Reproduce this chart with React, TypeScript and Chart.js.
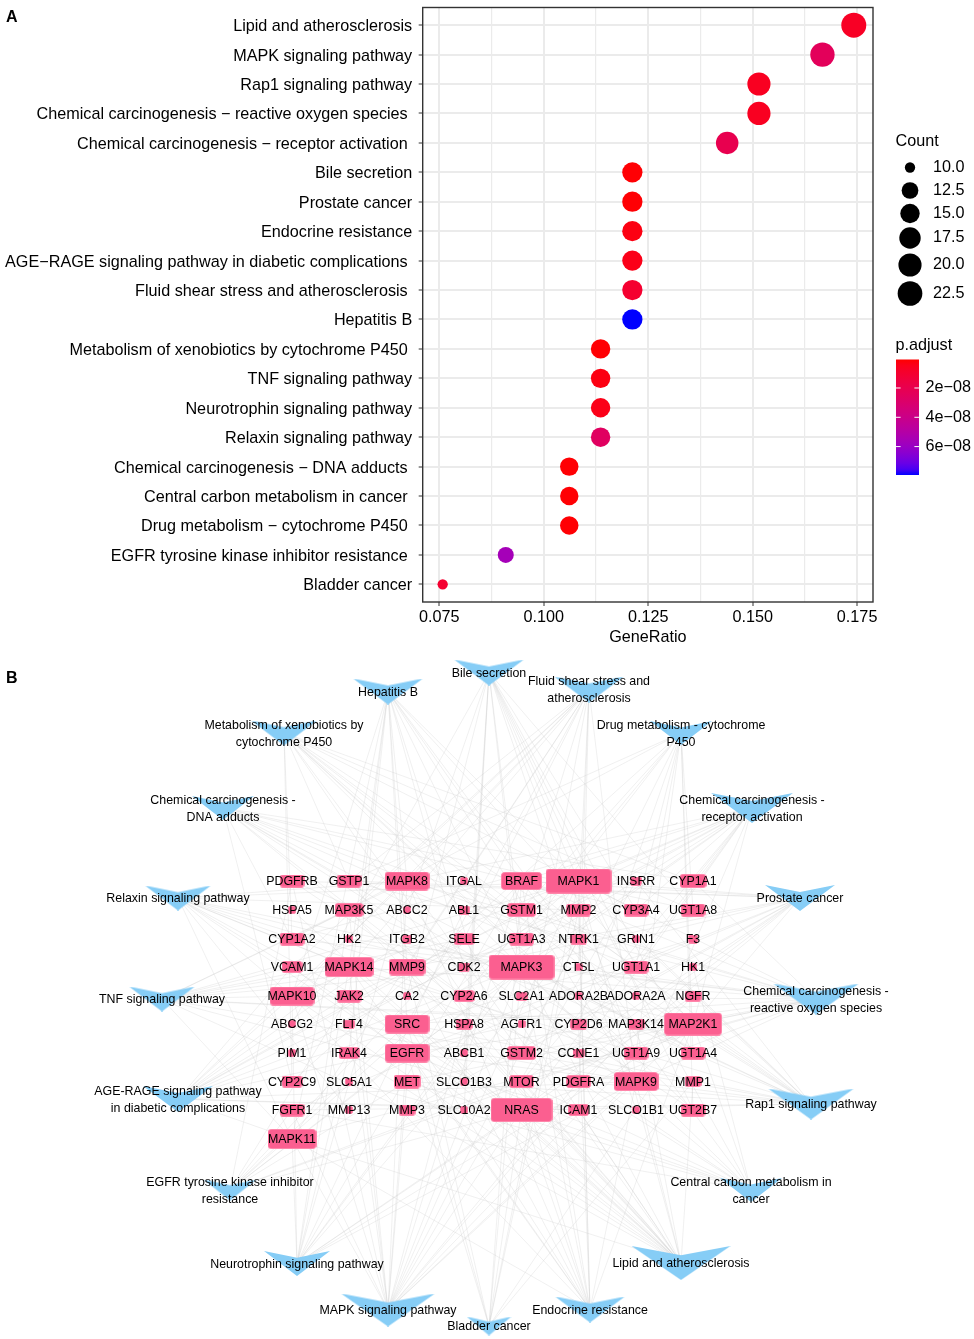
import React, { useEffect, useRef } from "react";
import Chart from "chart.js/auto";

const FONT = "'Liberation Sans', Arial, sans-serif";

// ---------- Panel A data ----------
const pathways = [
  "Lipid and atherosclerosis", "MAPK signaling pathway", "Rap1 signaling pathway",
  "Chemical carcinogenesis \u2212 reactive oxygen species ", "Chemical carcinogenesis \u2212 receptor activation ",
  "Bile secretion", "Prostate cancer", "Endocrine resistance",
  "AGE\u2212RAGE signaling pathway in diabetic complications ", "Fluid shear stress and atherosclerosis ",
  "Hepatitis B", "Metabolism of xenobiotics by cytochrome P450 ", "TNF signaling pathway",
  "Neurotrophin signaling pathway", "Relaxin signaling pathway",
  "Chemical carcinogenesis \u2212 DNA adducts ", "Central carbon metabolism in cancer ",
  "Drug metabolism \u2212 cytochrome P450 ", "EGFR tyrosine kinase inhibitor resistance ", "Bladder cancer",
];
const geneRatio = [0.1742, 0.1667, 0.1515, 0.1515, 0.1439, 0.1212, 0.1212, 0.1212, 0.1212, 0.1212, 0.1212, 0.1136, 0.1136, 0.1136, 0.1136, 0.1061, 0.1061, 0.1061, 0.0909, 0.0758];
const counts = [23, 22, 20, 20, 19, 16, 16, 16, 16, 16, 16, 15, 15, 15, 15, 14, 14, 14, 12, 10];
const pAdjust = [0.7e-8, 2.4e-8, 0.6e-8, 0.6e-8, 2.0e-8, 0.1e-8, 0.1e-8, 0.3e-8, 0.4e-8, 1.0e-8, 7.94e-8, 0.1e-8, 0.3e-8, 0.4e-8, 2.6e-8, 0.1e-8, 0.1e-8, 0.1e-8, 5.6e-8, 1.0e-8];
const xTicks = [0.075, 0.0875, 0.1, 0.1125, 0.125, 0.1375, 0.15, 0.1625, 0.175];
const sizeLegend = [10, 12.5, 15, 17.5, 20, 22.5];
const pLegend = [2e-8, 4e-8, 6e-8];
const pLegendLabels = ["2e\u221208", "4e\u221208", "6e\u221208"];
const P_LOW = 0.055e-8;
const P_HIGH = 7.94e-8;

// ---------- Panel B data ----------
const geneRows = [
  ["PDGFRB", "GSTP1", "MAPK8", "ITGAL", "BRAF", "MAPK1", "INSRR", "CYP1A1"],
  ["HSPA5", "MAP3K5", "ABCC2", "ABL1", "GSTM1", "MMP2", "CYP3A4", "UGT1A8"],
  ["CYP1A2", "HK2", "ITGB2", "SELE", "UGT1A3", "NTRK1", "GRIN1", "F3"],
  ["VCAM1", "MAPK14", "MMP9", "CDK2", "MAPK3", "CTSL", "UGT1A1", "HK1"],
  ["MAPK10", "JAK2", "CA2", "CYP2A6", "SLC2A1", "ADORA2B", "ADORA2A", "NGFR"],
  ["ABCG2", "FLT4", "SRC", "HSPA8", "AGTR1", "CYP2D6", "MAP3K14", "MAP2K1"],
  ["PIM1", "IRAK4", "EGFR", "ABCB1", "GSTM2", "CCNE1", "UGT1A9", "UGT1A4"],
  ["CYP2C9", "SLC5A1", "MET", "SLCO1B3", "MTOR", "PDGFRA", "MAPK9", "MMP1"],
  ["FGFR1", "MMP13", "MMP3", "SLC10A2", "NRAS", "ICAM1", "SLCO1B1", "UGT2B7"],
  ["MAPK11"],
];
const geneDegrees = [
  [5, 5, 10, 1, 9, 15, 2, 5.5],
  [1, 6, 1, 2, 6, 5, 5, 5],
  [5, 1, 1.5, 4, 5, 3, 1, 1.5],
  [4, 11, 8, 2, 15, 1, 5, 1],
  [10, 5, 1, 4, 2, 1, 1, 3],
  [1, 2, 10, 3, 1, 3, 3, 13],
  [1, 4, 10, 1, 6, 2, 5, 5],
  [4, 1, 5.5, 1, 5, 5, 10, 3],
  [5, 1, 3, 1, 14, 4, 1, 5],
  [11],
];
const columnPositions = [292, 349, 407, 464, 521.5, 578.5, 636, 693];
const rowPositions = [881, 910, 939, 967, 996, 1024, 1053, 1081.5, 1110, 1139];

const netNames = [
  "Bile secretion", "Fluid shear stress and\natherosclerosis", "Drug metabolism - cytochrome\nP450",
  "Chemical carcinogenesis -\nreceptor activation", "Prostate cancer",
  "Chemical carcinogenesis -\nreactive oxygen species", "Rap1 signaling pathway",
  "Central carbon metabolism in\ncancer", "Lipid and atherosclerosis", "Endocrine resistance",
  "Bladder cancer", "MAPK signaling pathway", "Neurotrophin signaling pathway",
  "EGFR tyrosine kinase inhibitor\nresistance", "AGE-RAGE signaling pathway\nin diabetic complications",
  "TNF signaling pathway", "Relaxin signaling pathway", "Chemical carcinogenesis -\nDNA adducts",
  "Metabolism of xenobiotics by\ncytochrome P450", "Hepatitis B",
];
const netCounts = [16, 16, 14, 19, 16, 20, 20, 14, 23, 16, 10, 22, 15, 12, 16, 15, 15, 14, 15, 16];
const netX = [489, 589, 681, 752, 800, 816, 811, 751, 681, 590, 489, 388, 297, 230, 178, 162, 178, 223, 284, 388];
const netY = [672.5, 689.5, 733, 808, 898, 999, 1104, 1190, 1263, 1309.5, 1326, 1310, 1263.5, 1190, 1099, 999, 898, 808, 733, 691.5];
const netGenes = [
  "ABCC2 ABCG2 SLCO1B1 SLCO1B3 SLC10A2 ABCB1 CYP3A4 UGT1A1 UGT1A3 UGT1A4 UGT1A8 UGT1A9 UGT2B7 CA2 MAPK3 MAPK1",
  "MAPK8 MAPK9 MAPK10 MAPK14 MAPK11 SRC ICAM1 VCAM1 SELE MMP2 MMP9 GSTM1 GSTM2 GSTP1 MAP3K5 CTSL",
  "CYP1A2 CYP2A6 CYP2C9 CYP2D6 CYP3A4 GSTM1 GSTM2 GSTP1 UGT1A1 UGT1A3 UGT1A4 UGT1A8 UGT1A9 UGT2B7",
  "MAPK1 MAPK3 MAPK8 MAPK9 MAPK10 MAP2K1 BRAF NRAS SRC EGFR MTOR CYP1A1 CYP1A2 CYP3A4 UGT1A1 CDK2 CCNE1 PIM1 JAK2",
  "MAPK1 MAPK3 MAP2K1 BRAF NRAS EGFR FGFR1 PDGFRA PDGFRB MTOR MMP3 MMP9 GSTP1 CCNE1 CDK2 GSTM2",
  "MAPK1 MAPK3 MAPK8 MAPK9 MAPK10 MAPK14 MAPK11 MAP2K1 BRAF NRAS SRC EGFR MET MTOR HK2 GSTP1 GSTM1 GSTM2 CYP1A1 CYP1A2",
  "MAPK1 MAPK3 MAPK14 GRIN1 MAP2K1 BRAF NRAS SRC EGFR MET FGFR1 PDGFRA PDGFRB INSRR NTRK1 NGFR FLT4 ADORA2A ADORA2B ITGAL",
  "MAPK1 MAPK3 MAP2K1 BRAF NRAS EGFR FGFR1 MET MTOR PDGFRA PDGFRB HK1 SLC2A1 SLC5A1",
  "MAPK1 MAPK3 MAPK8 MAPK9 MAPK10 MAPK14 MAPK11 SRC NRAS MMP1 MMP3 MMP9 ICAM1 VCAM1 SELE HSPA5 HSPA8 IRAK4 JAK2 MAP3K5 MTOR MAP3K14 GSTP1",
  "MAPK1 MAPK3 MAPK8 MAPK9 MAPK10 MAPK14 MAPK11 MAP2K1 BRAF NRAS SRC EGFR MTOR MMP2 MMP9 CYP2D6",
  "MAPK1 MAPK3 MAP2K1 BRAF NRAS EGFR SRC MMP1 MMP2 MMP9",
  "MAPK1 MAPK3 MAPK8 MAPK9 MAPK10 MAPK14 MAPK11 MAP2K1 BRAF NRAS EGFR MET FGFR1 PDGFRA PDGFRB INSRR NTRK1 NGFR FLT4 MAP3K5 MAP3K14 HSPA8",
  "MAPK1 MAPK3 MAPK8 MAPK9 MAPK10 MAPK14 MAPK11 MAP2K1 BRAF NRAS NTRK1 NGFR IRAK4 MAP3K5 ABL1",
  "MAPK1 MAPK3 MAP2K1 BRAF NRAS EGFR FGFR1 MET MTOR PDGFRB SRC JAK2",
  "MAPK1 MAPK3 MAPK8 MAPK9 MAPK10 MAPK14 MAPK11 NRAS ICAM1 VCAM1 SELE MMP2 JAK2 F3 AGTR1 ITGB2",
  "MAPK1 MAPK3 MAPK8 MAPK9 MAPK10 MAPK14 MAPK11 MAP3K5 MAP3K14 ICAM1 VCAM1 SELE MMP3 MMP9 MAP2K1",
  "MAPK1 MAPK3 MAPK8 MAPK9 MAPK10 MAPK14 MAPK11 MAP2K1 NRAS SRC EGFR MMP1 MMP2 MMP9 MMP13",
  "CYP1A1 CYP1A2 CYP2A6 CYP2C9 CYP3A4 GSTM1 GSTM2 GSTP1 UGT1A1 UGT1A3 UGT1A4 UGT1A8 UGT1A9 UGT2B7",
  "CYP1A1 CYP1A2 CYP2A6 CYP2C9 CYP3A4 GSTM1 GSTM2 GSTP1 UGT1A1 UGT1A3 UGT1A4 UGT1A8 UGT1A9 UGT2B7 CYP2D6",
  "MAPK1 MAPK3 MAPK8 MAPK9 MAPK10 MAPK14 MAPK11 MAP2K1 BRAF NRAS SRC JAK2 IRAK4 MMP9 MAP3K14 CDK2",
];

// ---------- mappings ----------
function bubbleRadius(count: number) {
  const size = 3.3 + 4.7 * Math.sqrt((count - 10) / 13);
  return size * 1.56;
}
function srgbToLinear(c: number) { return c <= 0.04045 ? c / 12.92 : Math.pow((c + 0.055) / 1.055, 2.4); }
function linearToSrgb(c: number) {
  const v = Math.max(0, Math.min(1, c));
  return v <= 0.0031308 ? v * 12.92 : 1.055 * Math.pow(v, 1 / 2.4) - 0.055;
}
function toLab(r: number, g: number, b: number) {
  const R = srgbToLinear(r), G = srgbToLinear(g), B = srgbToLinear(b);
  const f = (t: number) => (t > 0.008856 ? Math.cbrt(t) : 7.787 * t + 16 / 116);
  const x = f((0.4124 * R + 0.3576 * G + 0.1805 * B) / 0.95047);
  const y = f(0.2126 * R + 0.7152 * G + 0.0722 * B);
  const z = f((0.0193 * R + 0.1192 * G + 0.9505 * B) / 1.08883);
  return [116 * y - 16, 500 * (x - y), 200 * (y - z)];
}
const LAB_RED = toLab(1, 0, 0);
const LAB_BLUE = toLab(0, 0, 1);
function gradient(t: number) {
  const [L, a, b] = LAB_RED.map((v, i) => v + (LAB_BLUE[i] - v) * t);
  const fy = (L + 16) / 116, fx = fy + a / 500, fz = fy - b / 200;
  const g = (v: number) => (v * v * v > 0.008856 ? v * v * v : (v - 16 / 116) / 7.787);
  const X = 0.95047 * g(fx), Y = g(fy), Z = 1.08883 * g(fz);
  const r = linearToSrgb(3.2406 * X - 1.5372 * Y - 0.4986 * Z);
  const gg = linearToSrgb(-0.9689 * X + 1.8758 * Y + 0.0415 * Z);
  const bb = linearToSrgb(0.0557 * X - 0.204 * Y + 1.057 * Z);
  return `rgb(${Math.round(r * 255)},${Math.round(gg * 255)},${Math.round(bb * 255)})`;
}
const pColor = (p: number) => gradient((p - P_LOW) / (P_HIGH - P_LOW));

function nodeWidth(degree: number) { return 4.1 * degree + 3.8; }
function nodeHeight(degree: number) { return 0.29 * nodeWidth(degree) + 5.5; }

function geneSprite(degree: number) {
  const w = nodeWidth(degree), h = nodeHeight(degree);
  const c = document.createElement("canvas");
  c.width = Math.ceil(w); c.height = Math.ceil(h);
  const ctx = c.getContext("2d")!;
  ctx.beginPath();
  ctx.roundRect(0.5, 0.5, c.width - 1, c.height - 1, Math.min(3, h / 5));
  ctx.fillStyle = "#fb5f90";
  ctx.fill();
  ctx.strokeStyle = "#ff86aa";
  ctx.lineWidth = 1;
  ctx.stroke();
  return c;
}
function pathwaySprite(degree: number) {
  const w = nodeWidth(degree), h = nodeHeight(degree);
  const c = document.createElement("canvas");
  c.width = Math.ceil(w); c.height = Math.ceil(h);
  const ctx = c.getContext("2d")!;
  ctx.beginPath();
  ctx.moveTo(0, 0);
  ctx.lineTo(c.width / 2, c.height * 0.27);
  ctx.lineTo(c.width, 0);
  ctx.lineTo(c.width / 2, c.height);
  ctx.closePath();
  ctx.fillStyle = "#86cdf6";
  ctx.fill();
  return c;
}

// ---------- plugins ----------
const panelFrame = {
  id: "panelFrame",
  afterDatasetsDraw(chart: any) {
    const { ctx, chartArea: a } = chart;
    ctx.save();
    ctx.strokeStyle = "#333333";
    ctx.lineWidth = 1.4;
    ctx.strokeRect(a.left, a.top, a.right - a.left, a.bottom - a.top);
    ctx.restore();
  },
};

const legendRows = [167.5, 190.5, 213.5, 238, 265, 293.5];
const sideLegends = {
  id: "sideLegends",
  afterDraw(chart: any) {
    const { ctx } = chart;
    ctx.save();
    ctx.font = `16.2px ${FONT}`;
    ctx.fillStyle = "#000";
    ctx.textBaseline = "middle";
    ctx.textAlign = "left";
    ctx.fillText("Count", 895.5, 142);
    sizeLegend.forEach((v, i) => {
      ctx.fillStyle = "#000";
      ctx.beginPath();
      ctx.arc(910, legendRows[i], bubbleRadius(v), 0, Math.PI * 2);
      ctx.fill();
      ctx.fillText(v.toFixed(1), 933, legendRows[i]);
    });
    ctx.fillText("p.adjust", 895.5, 346);
    const top = 359.5, bottom = 475, left = 896, right = 919;
    const g = ctx.createLinearGradient(0, top, 0, bottom);
    for (let i = 0; i <= 20; i++) g.addColorStop(i / 20, gradient(i / 20));
    ctx.fillStyle = g;
    ctx.fillRect(left, top, right - left, bottom - top);
    pLegend.forEach((p, i) => {
      const y = top + ((p - P_LOW) / (P_HIGH - P_LOW)) * (bottom - top);
      ctx.strokeStyle = "#fff";
      ctx.lineWidth = 1;
      ctx.beginPath();
      ctx.moveTo(left, y); ctx.lineTo(left + 4.6, y);
      ctx.moveTo(right - 4.6, y); ctx.lineTo(right, y);
      ctx.stroke();
      ctx.fillStyle = "#000";
      ctx.fillText(pLegendLabels[i], 925.5, y);
    });
    ctx.restore();
  },
};

const geneList = geneRows.flatMap((row, r) => row.map((name, c) => ({
  name, x: columnPositions[c], y: rowPositions[r], degree: geneDegrees[r][c],
})));
const geneByName = new Map(geneList.map((g) => [g.name, g]));

const networkLabels = {
  id: "networkLabels",
  afterDatasetsDraw(chart: any) {
    const { ctx, scales } = chart;
    ctx.save();
    ctx.fillStyle = "#000";
    ctx.textAlign = "center";
    ctx.textBaseline = "middle";
    ctx.font = `12.4px ${FONT}`;
    geneList.forEach((g) => {
      ctx.fillText(g.name, scales.x.getPixelForValue(g.x), scales.y.getPixelForValue(g.y) + 0.8);
    });
    netNames.forEach((name, i) => {
      const lines = name.split("\n");
      const px = scales.x.getPixelForValue(netX[i]);
      const py = scales.y.getPixelForValue(netY[i]);
      lines.forEach((line, j) => {
        ctx.fillText(line, px, py + 0.8 + (j - (lines.length - 1) / 2) * 17);
      });
    });
    ctx.restore();
  },
};

export default function App() {
  const aRef = useRef<HTMLCanvasElement>(null);
  const bRef = useRef<HTMLCanvasElement>(null);

  useEffect(() => {
    const base = { family: "Liberation Sans", size: 16.2 };
    const chartA = new Chart(aRef.current!, {
      type: "bubble",
      data: {
        datasets: [{
          data: pathways.map((_, i) => ({ x: geneRatio[i], y: i, r: bubbleRadius(counts[i]) })),
          backgroundColor: pAdjust.map(pColor),
          borderWidth: 0,
          hoverBorderWidth: 0,
        }],
      },
      options: {
        animation: false,
        responsive: false,
        devicePixelRatio: 1,
        events: [],
        layout: { autoPadding: false, padding: { top: 7.5, right: 101, left: 0, bottom: 3 } },
        plugins: { legend: { display: false }, tooltip: { enabled: false } },
        scales: {
          x: {
            type: "linear",
            min: 0.07102,
            max: 0.1788,
            afterBuildTicks(s: any) { s.ticks = xTicks.map((value) => ({ value })); },
            afterFit(s: any) { s.height = 45; s.paddingLeft = 0; s.paddingRight = 0; },
            grid: {
              color: "#ebebeb",
              lineWidth: (c: any) => (c.index % 2 === 0 ? 2 : 1.2),
              tickColor: (c: any) => (c.index % 2 === 0 ? "#333333" : "rgba(0,0,0,0)"),
              tickLength: 4,
              tickWidth: 1,
            },
            border: { display: false },
            ticks: {
              autoSkip: false, maxRotation: 0, minRotation: 0, color: "#000", font: base, padding: 2,
              callback: (v: any, i: number) => (i % 2 === 0 ? Number(v).toFixed(3) : ""),
            },
            title: { display: true, text: "GeneRatio", color: "#000", font: base, padding: { top: 1, bottom: 0 } },
          },
          y: {
            type: "linear",
            reverse: true,
            min: -0.6,
            max: 19.6,
            afterBuildTicks(s: any) { s.ticks = pathways.map((_, value) => ({ value })); },
            afterFit(s: any) { s.width = 422.7; s.paddingTop = 0; s.paddingBottom = 0; },
            grid: { color: "#ebebeb", lineWidth: 2, tickColor: "#333333", tickLength: 4, tickWidth: 1 },
            border: { display: false },
            ticks: {
              autoSkip: false, color: "#000", font: base, padding: 6.5, labelOffset: 1.5,
              callback: (v: any) => pathways[Number(v)],
            },
          },
        },
      },
      plugins: [panelFrame, sideLegends],
    } as any);

    const edges = netGenes.flatMap((list, i) => list.split(" ").map((name) => {
      const g = geneByName.get(name)!;
      return {
        type: "scatter",
        showLine: true,
        data: [{ x: g.x, y: g.y }, { x: netX[i], y: netY[i] }],
        borderColor: "rgba(200,200,200,0.28)",
        borderWidth: 1,
        pointRadius: 0,
        order: 2,
      };
    }));
    const geneSprites = geneList.map((g) => geneSprite(g.degree));
    const pathwaySprites = netCounts.map(pathwaySprite);
    const chartB = new Chart(bRef.current!, {
      type: "scatter",
      data: {
        datasets: [
          ...edges,
          {
            data: geneList.map((g) => ({ x: g.x, y: g.y })),
            pointStyle: (c: any) => geneSprites[c.dataIndex],
            pointRadius: 3,
            order: 0,
          },
          {
            data: netX.map((x, i) => ({ x, y: netY[i] })),
            pointStyle: (c: any) => pathwaySprites[c.dataIndex],
            pointRadius: 3,
            order: 0,
          },
        ],
      },
      options: {
        animation: false,
        responsive: false,
        devicePixelRatio: 1,
        events: [],
        layout: { autoPadding: false, padding: 0 },
        plugins: { legend: { display: false }, tooltip: { enabled: false } },
        scales: {
          x: { type: "linear", display: false, min: 0, max: 974 },
          y: { type: "linear", display: false, min: 650, max: 1339, reverse: true },
        },
      },
      plugins: [networkLabels],
    } as any);

    return () => { chartA.destroy(); chartB.destroy(); };
  }, []);

  const letter = { position: "absolute", left: 6, font: `bold 16px ${FONT}`, color: "#000", lineHeight: "18px" } as const;
  return (
    <div style={{ position: "absolute", left: 0, top: 0, width: 974, height: 1339, background: "#fff", overflow: "hidden" }}>
      <canvas ref={aRef} width={974} height={650} style={{ position: "absolute", left: 0, top: 0, display: "block" }} />
      <canvas ref={bRef} width={974} height={689} style={{ position: "absolute", left: 0, top: 650, display: "block" }} />
      <div style={{ ...letter, top: 8 }}>A</div>
      <div style={{ ...letter, top: 669 }}>B</div>
    </div>
  );
}
